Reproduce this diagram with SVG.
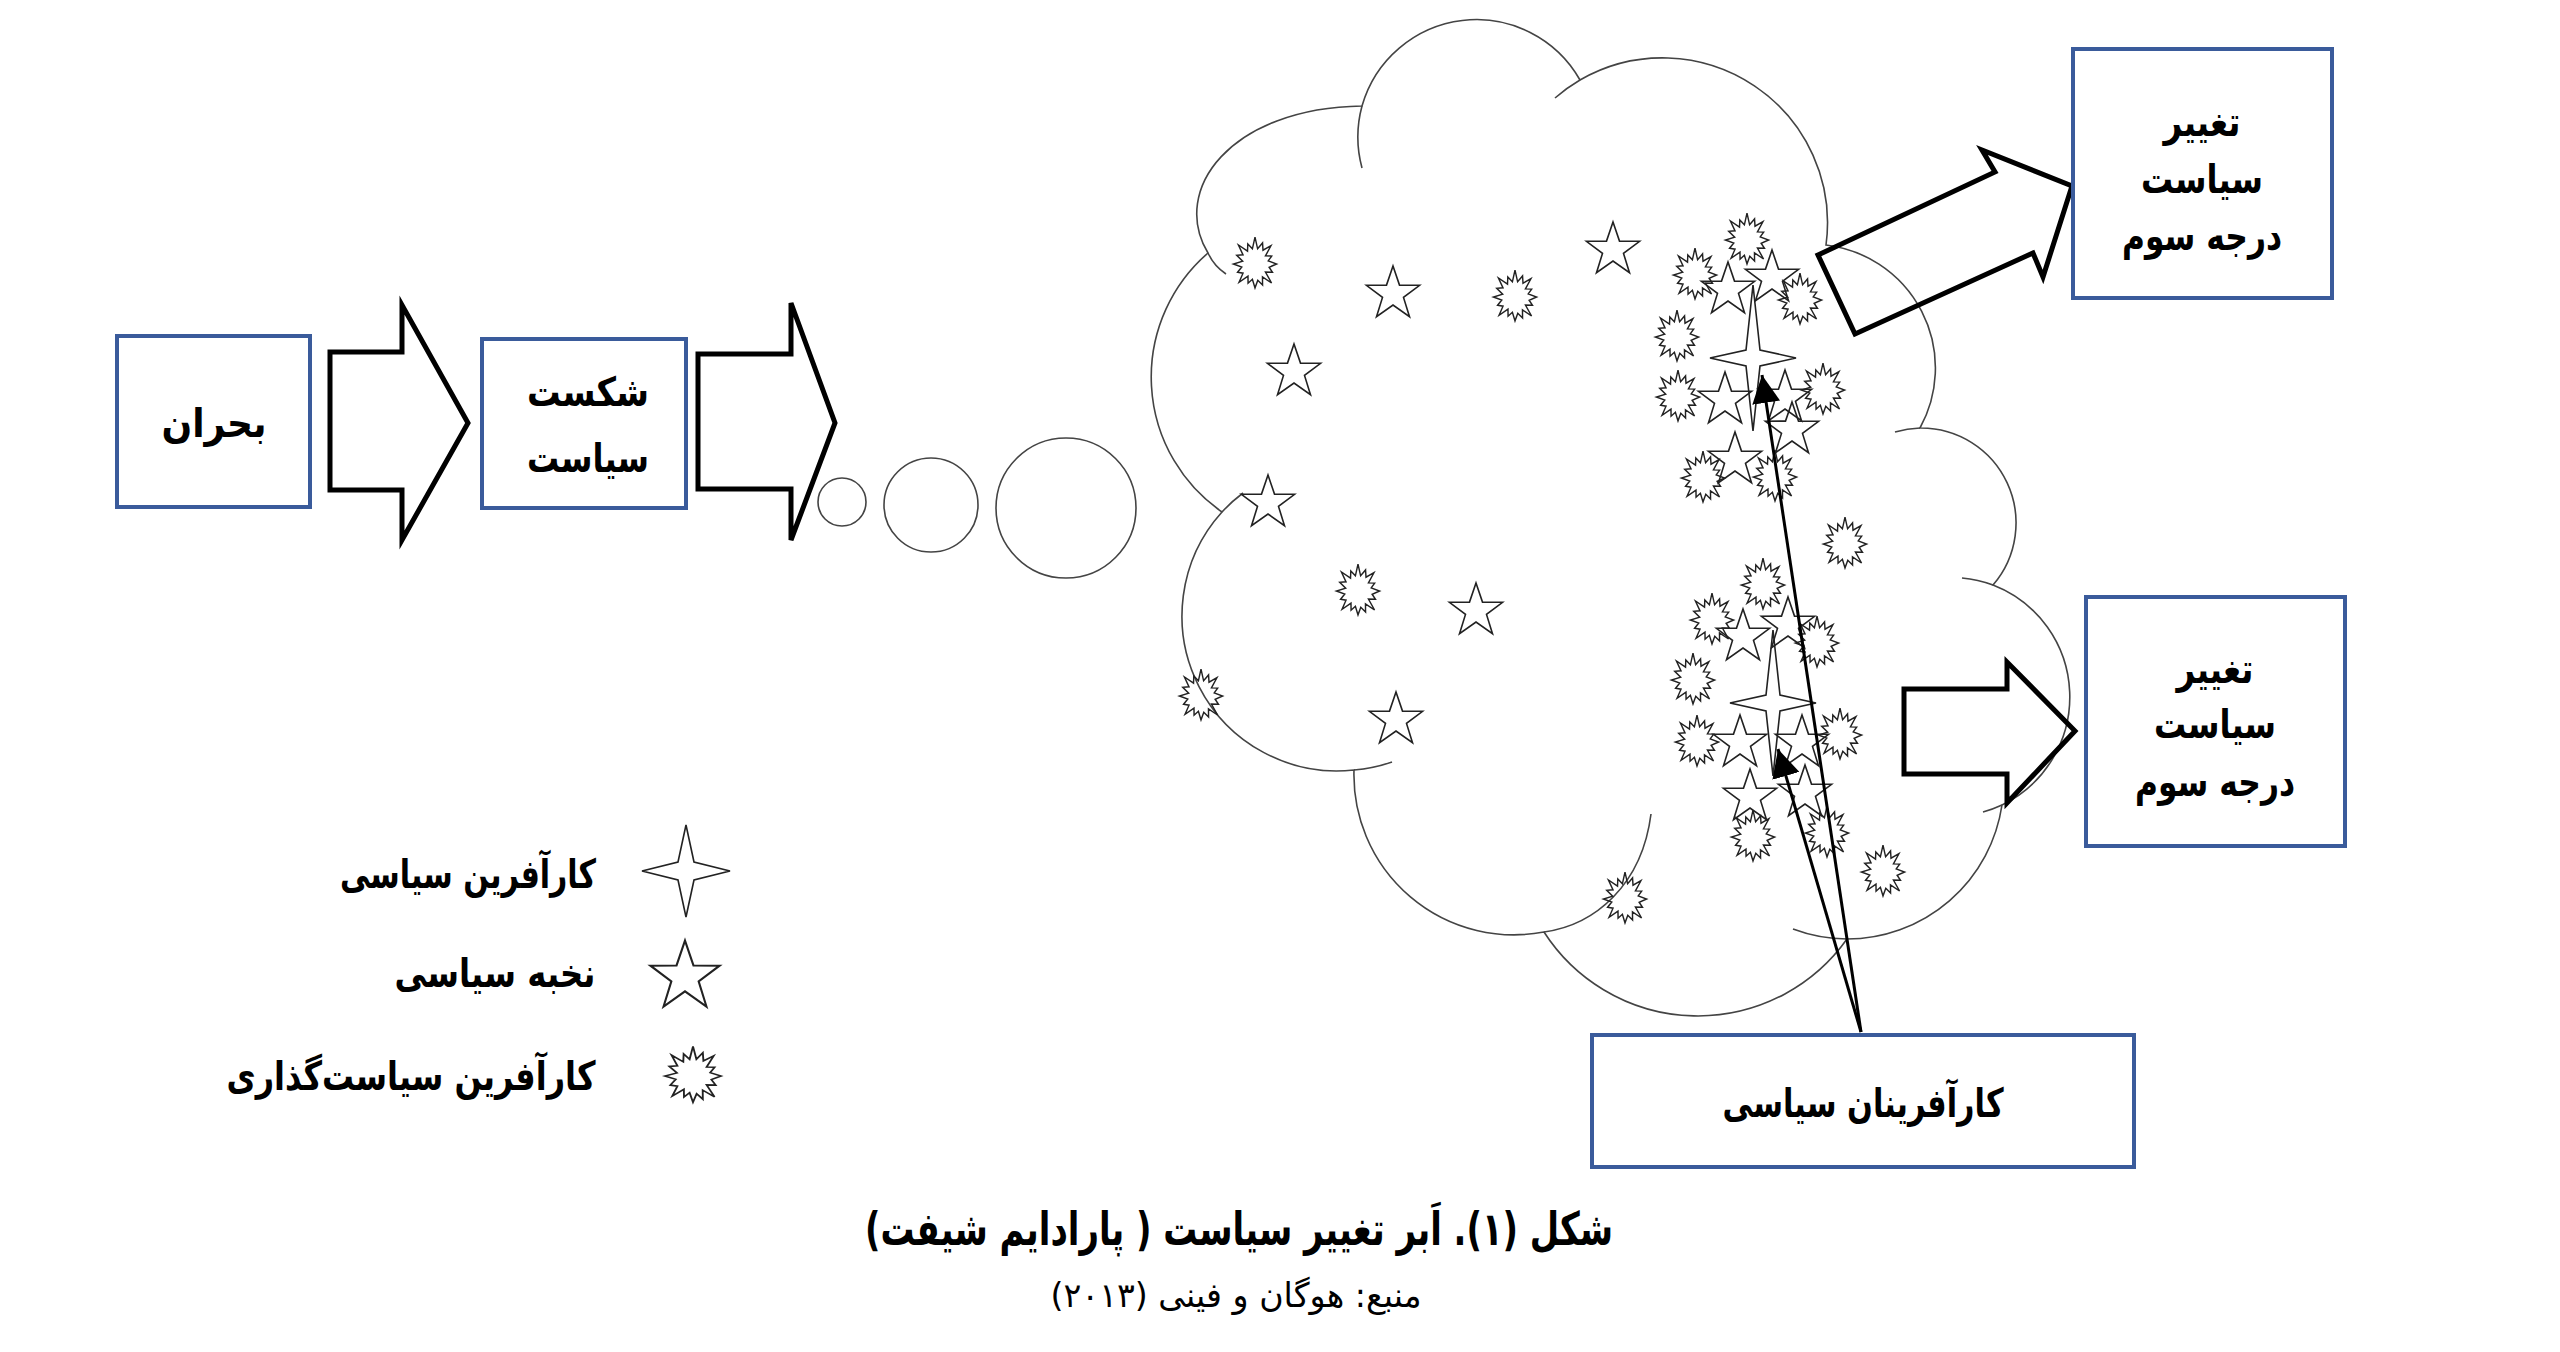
<svg xmlns="http://www.w3.org/2000/svg" xmlns:xlink="http://www.w3.org/1999/xlink" width="2560" height="1352" viewBox="0 0 2560 1352">
<style>
.box{fill:#fff;stroke:#3a5b9b;stroke-width:4}
.big{fill:none;stroke:#000;stroke-width:5;stroke-linejoin:miter}
.cl{fill:none;stroke:#444;stroke-width:1.6}
.sym{fill:none;stroke:#222;stroke-width:1.6;stroke-linejoin:miter}
.ln{fill:none;stroke:#000;stroke-width:3}
.t{font-family:"DejaVu Sans",sans-serif;font-weight:bold;fill:#000}
.lg{font-size:40px}
.bx{font-size:40px}
</style>
<defs>
<path id="star5" d="M0,-28 L6.5,-8.9 L26.6,-8.7 L10.5,3.4 L16.5,22.7 L0,11 L-16.5,22.7 L-10.5,3.4 L-26.6,-8.7 L-6.5,-8.9 Z"/>
<path id="star4" d="M0,-73 L7,-8 L43,0 L7,8 L0,73 L-7,8 L-43,0 L-7,-8 Z"/>
<path id="burst" transform="scale(0.9)" d="M0,-29.9 L2.9,-16.9 L8.4,-23.4 L8.9,-15.3 L17.7,-20.3 L11.6,-9 L18.5,-8.8 L14.7,-3.4 L24,0 L15.7,3.6 L19.4,9.2 L11.6,9 L18.4,21.1 L8.3,14.3 L8.4,23.4 L3.1,18 L0,26.5 L-2.9,16.9 L-7.7,21.3 L-7.8,13.4 L-17.7,20.3 L-13.3,10.2 L-19.4,9.2 L-14.7,3.4 L-24,0 L-13.7,-3.1 L-20.3,-9.7 L-13.3,-10.2 L-18.4,-21.1 L-8.3,-14.3 L-8,-22.3 L-2.9,-16.9 Z"/>
<marker id="ah" viewBox="0 0 28 28" refX="28" refY="14" markerWidth="28" markerHeight="28" markerUnits="userSpaceOnUse" orient="auto">
<path d="M0,0 L28,14 L0,28 Z" fill="#000"/>
</marker>
</defs>
<rect width="2560" height="1352" fill="#fff"/>

<g id="cloud">
<path class="cl" d="M1208,253 C1170,190 1230,108 1362,106 A119,119 0 0 1 1580,80 A165,165 0 0 1 1826,245 A124,124 0 0 1 1920,428 A95,95 0 0 1 1993,585 A120,120 0 0 1 2002,805 A157,157 0 0 1 1847,939 A183,183 0 0 1 1544,932 A160,160 0 0 1 1354,770 A155,155 0 0 1 1222,512 A164,164 0 0 1 1208,253 Z"/>
<path class="cl" d="M1362,106 A119,119 0 0 0 1362,168 M1580,80 A165,165 0 0 0 1555,98 M1208,253 Q1214,266 1226,274 M1222,512 A155,155 0 0 1 1243,493 M1354,770 A155,155 0 0 0 1392,762 M1544,932 C1595,925 1642,885 1651,814 M1920,428 A95,95 0 0 0 1895,432 M1993,585 A120,120 0 0 0 1962,578 M2002,805 A120,120 0 0 1 1983,812 M1847,939 A157,157 0 0 1 1793,929"/>
</g>

<g id="thought-bubbles">
<circle class="cl" cx="842" cy="502" r="24"/>
<circle class="cl" cx="931" cy="505" r="47"/>
<circle class="cl" cx="1066" cy="508" r="70"/>
</g>

<g id="scattered">
<use href="#burst" class="sym" x="1255" y="264"/>
<use href="#star5" class="sym" x="1393" y="294"/>
<use href="#burst" class="sym" x="1515" y="297"/>
<use href="#star5" class="sym" x="1613" y="250"/>
<use href="#star5" class="sym" x="1294" y="372"/>
<use href="#star5" class="sym" x="1268" y="503"/>
<use href="#burst" class="sym" x="1358" y="591"/>
<use href="#star5" class="sym" x="1476" y="611"/>
<use href="#burst" class="sym" x="1201" y="696"/>
<use href="#star5" class="sym" x="1396" y="720"/>
<use href="#burst" class="sym" x="1625" y="899"/>
<use href="#burst" class="sym" x="1845" y="544"/>
<use href="#burst" class="sym" x="1883" y="872"/>
</g>

<g id="cluster-upper">
<use href="#burst" class="sym" x="1747" y="240"/>
<use href="#burst" class="sym" x="1695" y="275"/>
<use href="#burst" class="sym" x="1800" y="300"/>
<use href="#burst" class="sym" x="1677" y="337"/>
<use href="#burst" class="sym" x="1678" y="397"/>
<use href="#burst" class="sym" x="1823" y="390"/>
<use href="#burst" class="sym" x="1703" y="478"/>
<use href="#burst" class="sym" x="1775" y="477"/>
<use href="#star5" class="sym" x="1728" y="290"/>
<use href="#star5" class="sym" x="1772" y="278"/>
<use href="#star5" class="sym" x="1725" y="400"/>
<use href="#star5" class="sym" x="1785" y="398"/>
<use href="#star5" class="sym" x="1792" y="430"/>
<use href="#star5" class="sym" x="1735" y="460"/>
<use href="#star4" class="sym" x="1753" y="358"/>
</g>

<g id="cluster-lower">
<use href="#burst" class="sym" x="1763" y="585"/>
<use href="#burst" class="sym" x="1712" y="620"/>
<use href="#burst" class="sym" x="1817" y="643"/>
<use href="#burst" class="sym" x="1693" y="680"/>
<use href="#burst" class="sym" x="1697" y="742"/>
<use href="#burst" class="sym" x="1840" y="735"/>
<use href="#burst" class="sym" x="1753" y="837"/>
<use href="#burst" class="sym" x="1827" y="833"/>
<use href="#star5" class="sym" x="1743" y="637"/>
<use href="#star5" class="sym" x="1788" y="625"/>
<use href="#star5" class="sym" x="1740" y="743"/>
<use href="#star5" class="sym" x="1802" y="743"/>
<use href="#star5" class="sym" x="1750" y="797"/>
<use href="#star5" class="sym" x="1805" y="793"/>
<use href="#star4" class="sym" x="1773" y="703"/>
</g>

<g id="connectors">
<path class="big" d="M330,352 L402,352 L402,305 L468,423 L402,540 L402,490 L330,490 Z"/>
<path class="big" d="M698,354 L791,354 L791,303 L835,423 L791,540 L791,489 L698,489 Z"/>
<path class="big" d="M1818,255 L1995,172 L1982,150 L2072,186 L2043,277 L2033,253 L1855,334 Z"/>
<path class="big" d="M1904,689 L2007,689 L2007,662 L2075,731 L2007,803 L2007,774 L1904,774 Z"/>
<line class="ln" x1="1861" y1="1032" x2="1762" y2="375" marker-end="url(#ah)"/>
<line class="ln" x1="1861" y1="1032" x2="1778" y2="749" marker-end="url(#ah)"/>
</g>

<g id="node-crisis">
<rect class="box" x="117" y="336" width="193" height="171"/>
<text class="t bx" x="214" y="437" text-anchor="middle" direction="rtl" textLength="105" lengthAdjust="spacingAndGlyphs">بحران</text>
</g>

<g id="node-policy-failure">
<rect class="box" x="482" y="339" width="204" height="169"/>
<text class="t bx" x="588" y="406" text-anchor="middle" direction="rtl" textLength="122" lengthAdjust="spacingAndGlyphs">شکست</text>
<text class="t bx" x="588" y="472" text-anchor="middle" direction="rtl" textLength="122" lengthAdjust="spacingAndGlyphs">سیاست</text>
</g>

<g id="node-third-order-1">
<rect class="box" x="2073" y="49" width="259" height="249"/>
<text class="t bx" x="2202" y="136" text-anchor="middle" direction="rtl" textLength="77" lengthAdjust="spacingAndGlyphs">تغییر</text>
<text class="t bx" x="2202" y="193" text-anchor="middle" direction="rtl" textLength="122" lengthAdjust="spacingAndGlyphs">سیاست</text>
<text class="t bx" x="2202" y="250" text-anchor="middle" direction="rtl" textLength="160" lengthAdjust="spacingAndGlyphs">درجه سوم</text>
</g>

<g id="node-third-order-2">
<rect class="box" x="2086" y="597" width="259" height="249"/>
<text class="t bx" x="2215" y="683" text-anchor="middle" direction="rtl" textLength="77" lengthAdjust="spacingAndGlyphs">تغییر</text>
<text class="t bx" x="2215" y="738" text-anchor="middle" direction="rtl" textLength="122" lengthAdjust="spacingAndGlyphs">سیاست</text>
<text class="t bx" x="2215" y="796" text-anchor="middle" direction="rtl" textLength="160" lengthAdjust="spacingAndGlyphs">درجه سوم</text>
</g>

<g id="node-entrepreneurs">
<rect class="box" x="1592" y="1035" width="542" height="132"/>
<text class="t bx" x="1863" y="1117" text-anchor="middle" direction="rtl" textLength="281" lengthAdjust="spacingAndGlyphs">کارآفرینان سیاسی</text>
</g>

<g id="legend">
<path class="sym" transform="translate(686,871)" d="M0,-46 L8,-9 L44,0 L8,9 L0,46 L-8,9 L-44,0 L-8,-9 Z"/>
<use href="#star5" class="sym" transform="translate(685,977) scale(1.3)"/>
<use href="#burst" class="sym" transform="translate(693,1076) scale(1.3,1.1)"/>
<text class="t lg" x="468" y="888" text-anchor="middle" direction="rtl" textLength="256" lengthAdjust="spacingAndGlyphs">کارآفرین سیاسی</text>
<text class="t lg" x="495" y="987" text-anchor="middle" direction="rtl" textLength="201" lengthAdjust="spacingAndGlyphs">نخبه سیاسی</text>
<text class="t lg" x="411" y="1090" text-anchor="middle" direction="rtl" textLength="369" lengthAdjust="spacingAndGlyphs">کارآفرین سیاست‌گذاری</text>
</g>

<g id="caption">
<text class="t" x="1239" y="1245" font-size="46" text-anchor="middle" direction="rtl" textLength="748" lengthAdjust="spacingAndGlyphs">شکل (۱). اَبر تغییر سیاست ( پارادایم شیفت)</text>
<text x="1236" y="1307" font-family="DejaVu Sans, sans-serif" font-size="34" text-anchor="middle" direction="rtl" fill="#000" textLength="371" lengthAdjust="spacingAndGlyphs">منبع: هوگان و فینی (۲۰۱۳)</text>
</g>
</svg>
